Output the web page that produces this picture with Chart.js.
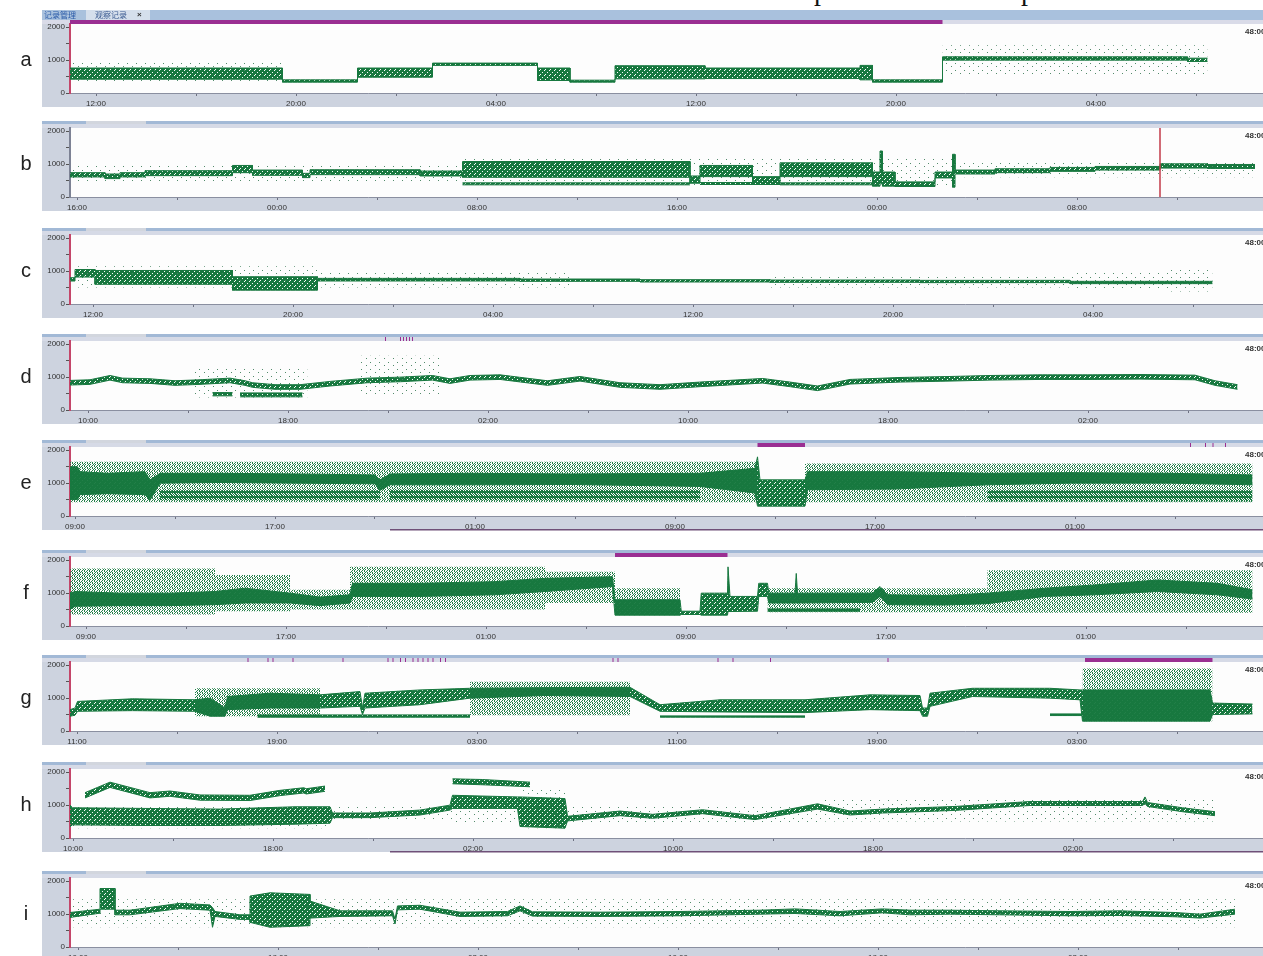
<!DOCTYPE html>
<html>
<head>
<meta charset="utf-8">
<script src="https://cdn.jsdelivr.net/npm/chart.js@4.4.1/dist/chart.umd.min.js"></script>
<style>
  html, body { margin: 0; padding: 0; background: #fff; overflow: hidden; }
  body { width: 1263px; height: 956px; position: relative; font-family: 'Liberation Sans', Arial, sans-serif; }
  canvas.panel { position: absolute; left: 0; }
  .letter { position: absolute; left: 14px; width: 24px; text-align: center; font-size: 20px; line-height: 20px; color: #222; }
  .cut { position: absolute; top: -25px; font-family: 'Liberation Serif', serif; font-size: 28px; color: #111; }
</style>
</head>
<body>
<span class="cut" style="left:814px">p</span>
<span class="cut" style="left:1021px">p</span>
<div id="wrap"></div>
<script>
// --- Data (hours from left edge of each panel, values 0-2000) ---
// a
const aT  = [0, 8.5, 11.5, 14.5, 18.7, 20.0, 21.8, 25.4, 31.6, 32.1, 34.9, 44.7, 45.5];
const aLo = [420, 330, 480, 840, 380, 330, 430, 440, 400, 330, 1000, 960, null];
const aHi = [760, 400, 760, 910, 760, 390, 830, 760, 840, 400, 1100, 1060, null];
const aST  = [0, 8.5, 34.9, 45.5];
const aSLo = [330, null, 550, null];
const aSHi = [1000, null, 1450, null];
const aTicks = ['12:00', '20:00', '04:00', '12:00', '20:00', '04:00'];
const aEvents = [[0, 34.9]];

// b
const bT  = [0, 1.4, 2.0, 3.0, 6.5, 7.3, 9.3, 9.6, 14.0, 15.7, 24.8, 25.2, 27.3, 28.4, 32.1, 32.4, 32.5, 33.0, 34.6, 35.3, 35.4, 37.0, 39.2, 41.0, 43.6, 45.5, 47.4];
const bLo = [610, 560, 610, 650, 740, 660, 590, 680, 640, 600, 420, 620, 380, 620, 330, 400, 330, 320, 580, 300, 700, 740, 780, 820, 880, 870, null];
const bHi = [740, 700, 740, 800, 960, 820, 720, 830, 790, 1080, 640, 960, 620, 1040, 760, 1400, 760, 460, 760, 1300, 820, 860, 900, 930, 1010, 990, null];
const bT2  = [15.7, 24.8, 25.2, 27.3, 28.4, 32.1];
const bLo2 = [370, null, 380, null, 370, null];
const bHi2 = [430, null, 440, null, 430, null];
const bST  = [0, 15.7, 35.4, 47.4];
const bSLo = [450, 350, 600, null];
const bSHi = [1000, 1200, 1100, null];
const bTicks = ['16:00', '00:00', '08:00', '16:00', '00:00', '08:00'];
const bCursor = 43.6;

// c
const cT  = [0, 0.2, 1.0, 6.5, 9.9, 14.0, 18.0, 22.8, 28.0, 34.0, 40.0, 45.7];
const cLo = [700, 820, 600, 420, 700, 700, 690, 670, 660, 650, 620, null];
const cHi = [800, 1050, 1020, 830, 780, 780, 760, 740, 730, 720, 690, null];
const cST  = [0.2, 9.9, 20, 28, 40, 44, 45.7];
const cSLo = [500, 500, null, 500, 420, 380, null];
const cSHi = [1150, 950, null, 900, 950, 1050, null];
const cTicks = ['12:00', '20:00', '04:00', '12:00', '20:00', '04:00'];

// d
const dT  = [0, 0.8, 1.6, 2.1, 3.2, 4.2, 5.2, 6.4, 7.0, 7.3, 8.2, 9.2, 10.4, 11.9, 13.2, 14.5, 15.2, 16.0, 17.2, 19.1, 20.4, 22.0, 23.6, 25.2, 27.7, 28.8, 29.9, 31.2, 33.2, 35.2, 36.8, 38.8, 40.8, 42.8, 45.0, 45.8, 46.7];
const dLo = [760, 780, 910, 830, 810, 750, 780, 830, 750, 690, 630, 630, 730, 830, 860, 910, 810, 910, 930, 750, 880, 690, 630, 710, 820, 710, 590, 790, 850, 880, 910, 930, 930, 940, 920, 750, 630];
const dHi = [900, 920, 1050, 970, 950, 890, 920, 970, 890, 830, 770, 770, 870, 970, 1000, 1050, 950, 1050, 1070, 890, 1020, 830, 770, 850, 960, 850, 730, 930, 990, 1020, 1050, 1070, 1070, 1080, 1060, 890, 770];
const dT2  = [5.7, 6.5, 6.8, 9.3];
const dLo2 = [430, null, 400, null];
const dHi2 = [530, null, 520, null];
const dST  = [5.0, 9.5, 11.6, 14.8];
const dSLo = [380, null, 450, null];
const dSHi = [1300, null, 1650, null];
const dTicks = ['10:00', '18:00', '02:00', '10:00', '18:00', '02:00'];
const dEvents = [[12.6, 12.64], [13.2, 13.24], [13.32, 13.36], [13.44, 13.48], [13.56, 13.6], [13.68, 13.72]];

// e
const eT  = [0, 0.3, 0.4, 1.5, 3.0, 3.2, 3.6, 6, 9, 12.2, 12.4, 12.8, 16, 20, 25.2, 27.4, 27.5, 27.6, 29.4, 29.5, 33, 36.7, 40, 44, 47.3];
const eLo = [500, 500, 650, 680, 650, 480, 1000, 1020, 1000, 980, 780, 950, 950, 960, 900, 700, 300, 300, 300, 800, 820, 950, 1000, 1000, 950];
const eHi = [1500, 1500, 1350, 1300, 1350, 1100, 1300, 1300, 1280, 1250, 1100, 1280, 1300, 1280, 1300, 1450, 1800, 1100, 1100, 1350, 1350, 1300, 1320, 1300, 1250];
const eT2  = [3.6, 12.4, 12.8, 25.2, 36.7, 47.3];
const eLo2 = [480, null, 470, null, 450, null];
const eHi2 = [780, null, 800, null, 780, null];
const eST  = [0, 27.5, 29.4, 47.3];
const eSLo = [420, null, 420, null];
const eSHi = [1650, null, 1600, null];
const eTicks = ['09:00', '17:00', '01:00', '09:00', '17:00', '01:00'];
const eEvents = [[27.5, 29.4], [44.8, 44.84], [45.4, 45.44], [45.7, 45.74], [46.2, 46.24]];

// f
const fT  = [0, 0.2, 2, 4, 5.8, 7, 8.8, 10, 11.2, 11.3, 14, 17, 19.0, 21.7, 21.8, 24.4, 24.45, 25.2, 25.25, 26.3, 26.32, 26.4, 27.5, 27.55, 27.9, 27.95, 29, 29.05, 29.1, 32.1, 32.4, 32.7, 35, 36.7, 39, 41, 43.5, 45.9, 47.3];
const fLo = [500, 600, 620, 620, 650, 700, 700, 620, 700, 900, 900, 950, 1050, 1200, 330, 330, 350, 350, 330, 330, 440, 440, 450, 900, 900, 700, 700, 700, 700, 720, 900, 650, 640, 680, 900, 950, 1050, 950, 820];
const fHi = [1000, 1050, 1000, 1000, 1050, 1150, 1000, 880, 950, 1300, 1300, 1350, 1450, 1500, 800, 800, 450, 450, 1000, 1000, 1800, 900, 900, 1300, 1300, 1000, 1000, 1600, 1000, 1000, 1200, 950, 930, 1000, 1150, 1250, 1400, 1300, 1100];
const fT2  = [27.9, 31.6];
const fLo2 = [450, null];
const fHi2 = [520, null];
const fST  = [0, 5.8, 8.8, 11.2, 19.0, 21.8, 24.4, 27.9, 36.7, 47.3];
const fSLo = [350, 450, 500, 500, 700, 330, null, 420, 400, null];
const fSHi = [1750, 1550, 1100, 1800, 1650, 1150, null, 1150, 1700, null];
const fTicks = ['09:00', '17:00', '01:00', '09:00', '17:00', '01:00'];
const fEvents = [[21.8, 26.3]];

// g
const gT  = [0, 0.2, 0.3, 2.5, 5.0, 5.6, 6.2, 6.3, 8, 10, 11.6, 11.7, 11.8, 14, 16, 19, 22.4, 23.6, 26, 29.4, 32, 34, 34.1, 34.3, 34.4, 36.1, 39.2, 40.4, 40.5, 45.6, 45.7, 47.3];
const gLo = [450, 480, 600, 620, 600, 450, 450, 650, 700, 700, 750, 500, 700, 800, 1000, 1080, 1050, 600, 580, 560, 650, 620, 450, 450, 750, 1050, 1000, 950, 300, 300, 500, 520];
const gHi = [650, 700, 900, 980, 950, 1000, 700, 1050, 1150, 1100, 1200, 700, 1150, 1250, 1300, 1320, 1330, 800, 950, 950, 1100, 1080, 700, 700, 1150, 1300, 1300, 1250, 1250, 1250, 850, 820];
const gT2  = [7.5, 16.0, 23.6, 29.4, 39.2, 40.5];
const gLo2 = [420, null, 420, null, 470, null];
const gHi2 = [490, null, 460, null, 520, null];
const gST  = [5.0, 10, 16, 22.4, 40.5, 45.7];
const gSLo = [450, null, 480, null, 300, null];
const gSHi = [1300, null, 1500, null, 1900, null];
const gTicks = ['11:00', '19:00', '03:00', '11:00', '19:00', '03:00'];
const gEvents = [[7.1, 7.14], [7.9, 7.94], [8.1, 8.14], [8.9, 8.94], [10.9, 10.94], [12.7, 12.74], [12.9, 12.94], [13.2, 13.24],
  [13.4, 13.44], [13.7, 13.74], [13.9, 13.94], [14.1, 14.14], [14.3, 14.34], [14.5, 14.54], [14.8, 14.84], [15.0, 15.04],
  [21.7, 21.74], [21.9, 21.94], [25.9, 25.94], [26.5, 26.54], [28.0, 28.04], [32.7, 32.74], [40.6, 45.7]];

// h
const hT  = [0, 0.1, 3, 6, 9, 10.4, 10.5, 12, 14, 15.2, 15.3, 17.9, 18.0, 19.8, 19.9, 22, 23.3, 25.3, 27.4, 29.9, 31.2, 32.5, 35.4, 38.4, 42.9, 43.0, 43.1, 44.5, 45.8];
const hLo = [350, 400, 380, 380, 420, 450, 620, 620, 700, 850, 900, 900, 350, 300, 520, 680, 600, 740, 560, 880, 700, 760, 840, 990, 990, 1050, 960, 800, 680];
const hHi = [1000, 920, 900, 880, 950, 950, 760, 760, 850, 1000, 1300, 1250, 1250, 1200, 660, 820, 720, 860, 680, 1040, 820, 880, 960, 1110, 1110, 1250, 1080, 920, 800];
const hT2  = [0.6, 1.6, 3.2, 4, 5.2, 7.2, 8.4, 9.35, 9.45, 10.2, 10.3, 15.3, 16.5, 18.4];
const hLo2 = [1220, 1540, 1220, 1270, 1150, 1140, 1290, 1370, 1340, 1420, null, 1650, 1620, 1560];
const hHi2 = [1380, 1700, 1380, 1430, 1310, 1300, 1450, 1530, 1500, 1580, null, 1800, 1780, 1700];
const hST  = [0, 10.4, 15.3, 18.0, 19.8, 28, 30, 45.8];
const hSLo = [300, 550, 420, 300, 450, 400, 500, null];
const hSHi = [1000, 1000, 1300, 1500, 1000, 950, 1200, null];
const hTicks = ['10:00', '18:00', '02:00', '10:00', '18:00', '02:00'];

// i
const iT  = [0, 1.2, 1.2, 1.8, 1.8, 2.4, 4.4, 5.6, 5.7, 5.8, 6.8, 7.2, 7.2, 8.0, 9.6, 9.6, 10.8, 12.9, 13.0, 13.1, 14.0, 15.6, 17.5, 18.0, 18.5, 21.2, 24.4, 27.6, 29.0, 30.8, 32.5, 33.6, 35.2, 37.2, 40.0, 42.0, 44.2, 45.2, 46.6];
const iLo = [900, 1030, 1150, 1150, 980, 980, 1170, 1120, 600, 930, 840, 840, 750, 600, 650, 880, 930, 950, 700, 1130, 1150, 930, 950, 1100, 940, 930, 950, 1000, 1020, 950, 1040, 980, 1000, 980, 950, 960, 920, 880, 1000];
const iHi = [1050, 1150, 1780, 1780, 1120, 1120, 1330, 1280, 1200, 1080, 980, 980, 1550, 1650, 1600, 1400, 1100, 1100, 850, 1250, 1270, 1060, 1080, 1250, 1070, 1060, 1080, 1120, 1160, 1080, 1160, 1120, 1120, 1100, 1080, 1100, 1050, 1000, 1150];
const iST  = [0, 46.6];
const iSLo = [600, null];
const iSHi = [1450, null];
const iTicks = ['10:00', '18:00', '02:00', '10:00', '18:00', '02:00'];

// --- Layout / style per panel ---
const GREEN = '#17783f';
const PURPLE = '#9a2f92';
const X_MAX = 47.72;

const panels = [
    { id: 'a', zero: 93,  padTop: 18, tabs: true, T: aT, lo: aLo, hi: aHi, step: true, ST: aST, SLo: aSLo, SHi: aSHi, spread: 'sparse', ticks: aTicks, first: 1.04, events: aEvents },
    { id: 'b', zero: 197, padTop: 8, axis: '#7d8294', T: bT, lo: bLo, hi: bHi, step: true, T2: bT2, lo2: bLo2, hi2: bHi2, step2: true, ST: bST, SLo: bSLo, SHi: bSHi, spread: 'sparse', ticks: bTicks, first: 0.28, cursor: bCursor },
    { id: 'c', zero: 304, padTop: 8, T: cT, lo: cLo, hi: cHi, step: true, ST: cST, SLo: cSLo, SHi: cSHi, spread: 'sparse', ticks: cTicks, first: 0.92 },
    { id: 'd', zero: 410, padTop: 8, T: dT, lo: dLo, hi: dHi, step: false, T2: dT2, lo2: dLo2, hi2: dHi2, step2: true, ST: dST, SLo: dSLo, SHi: dSHi, spread: 'sparse', ticks: dTicks, first: 0.72, events: dEvents },
    { id: 'e', zero: 516, padTop: 8, T: eT, lo: eLo, hi: eHi, step: false, T2: eT2, lo2: eLo2, hi2: eHi2, step2: true, band2: 'medium', ST: eST, SLo: eSLo, SHi: eSHi, spread: 'dense', ticks: eTicks, first: 0.2, events: eEvents, underline: 12.8 },
    { id: 'f', zero: 626, padTop: 8, T: fT, lo: fLo, hi: fHi, step: false, T2: fT2, lo2: fLo2, hi2: fHi2, step2: true, ST: fST, SLo: fSLo, SHi: fSHi, spread: 'dense', ticks: fTicks, first: 0.64, events: fEvents },
    { id: 'g', zero: 731, padTop: 8, T: gT, lo: gLo, hi: gHi, step: false, T2: gT2, lo2: gLo2, hi2: gHi2, step2: true, ST: gST, SLo: gSLo, SHi: gSHi, spread: 'dense', ticks: gTicks, first: 0.28, events: gEvents },
    { id: 'h', zero: 838, padTop: 8, T: hT, lo: hLo, hi: hHi, step: false, T2: hT2, lo2: hLo2, hi2: hHi2, step2: false, ST: hST, SLo: hSLo, SHi: hSHi, spread: 'sparse', ticks: hTicks, first: 0.12, underline: 12.8 },
    { id: 'i', zero: 947, padTop: 8, T: iT, lo: iLo, hi: iHi, step: false, ST: iST, SLo: iSLo, SHi: iSHi, spread: 'sparse', ticks: iTicks, first: 0.32 }
];

// --- Dot patterns for the scattered points ---
const makePattern = (rows, color) => {
    const c = document.createElement('canvas');
    c.width = rows[0].length; c.height = rows.length;
    const x = c.getContext('2d');
    x.fillStyle = color;
    rows.forEach((r, py) => [...r].forEach((ch, px) => { if (ch === '1') x.fillRect(px, py, 1, 1); }));
    return x.createPattern(c, 'repeat');
};
const fills = {
    tex: makePattern(['11111', '11011', '11111', '01111', '11110'], GREEN),
    medium: makePattern(['11010', '01101', '10110', '01011', '10101'], GREEN),
    dense: makePattern(['10010', '00101', '01001', '10100', '00101'], 'rgba(23,120,63,0.95)'),
    sparse: makePattern(['000000000', '010000000', '000000000', '000000000', '000000100', '000000000', '000000000'], 'rgba(40,110,70,0.8)')
};

// --- Turn a band (time, low, high) into pairs of line datasets filled between ---
const toRuns = (T, lo, hi, stepped) => {
    const out = [];
    let cur = null;
    const n = stepped ? T.length - 1 : T.length;
    for (let i = 0; i < n; i++) {
        if (lo[i] == null || hi[i] == null) { cur = null; continue; }
        if (!cur) { cur = { lo: [], hi: [] }; out.push(cur); }
        cur.lo.push({ x: T[i], y: lo[i] });
        cur.hi.push({ x: T[i], y: hi[i] });
        if (stepped) {
            cur.lo.push({ x: T[i + 1], y: lo[i] });
            cur.hi.push({ x: T[i + 1], y: hi[i] });
        }
    }
    return out;
};

const addBand = (sets, T, lo, hi, stepped, fill, border, order) => {
    if (!T) return;
    const bw = border === 'transparent' ? 0 : 1;
    toRuns(T, lo, hi, stepped).forEach(r => {
        sets.push({ data: r.lo, borderColor: border, borderWidth: bw, fill: false, order });
        sets.push({ data: r.hi, borderColor: border, borderWidth: bw, fill: '-1', backgroundColor: fill, order });
    });
};

// --- Plugin: window chrome, event bars, cursor ---
const framePlugin = {
    id: 'frame',
    beforeDraw(chart, args, o) {
        const { ctx, chartArea: ca, width } = chart;
        ctx.save();
        ctx.fillStyle = '#cdd3df';
        ctx.fillRect(42, ca.top, ca.left - 42, ca.bottom - ca.top + 14);
        ctx.fillRect(42, ca.bottom, width - 42, 14);
        ctx.fillStyle = '#fdfdfd';
        ctx.fillRect(ca.left, ca.top, ca.right - ca.left, ca.bottom - ca.top);
        if (o.tabs) {
            ctx.fillStyle = '#a9c1dd';
            ctx.fillRect(42, ca.top - 14, width - 42, 10);
            ctx.fillStyle = '#d5dfec';
            ctx.fillRect(86, ca.top - 14, 64, 10);
            ctx.fillStyle = '#d9dbe8';
            ctx.fillRect(42, ca.top - 4, width - 42, 4);
            ctx.textBaseline = 'middle';
            ctx.font = '8px "Noto Sans CJK SC"';
            ctx.fillStyle = '#2a5aa8';
            ctx.fillText('记录管理', 44, ca.top - 9);
            ctx.fillStyle = '#3a5a90';
            ctx.fillText('观察记录', 95, ca.top - 9);
            ctx.font = 'bold 8px "Liberation Sans"';
            ctx.fillStyle = '#333';
            ctx.fillText('×', 137, ca.top - 9);
        } else {
            ctx.fillStyle = '#d6dae6';
            ctx.fillRect(42, ca.top - 7, width - 42, 7);
            ctx.fillStyle = '#a2b9d6';
            ctx.fillRect(42, ca.top - 7, width - 42, 3);
            ctx.fillStyle = '#d2d6de';
            ctx.fillRect(86, ca.top - 7, 60, 3);
        }
        ctx.restore();
    },
    afterDraw(chart, args, o) {
        const { ctx, chartArea: ca, width } = chart;
        const xs = chart.scales.x;
        ctx.save();
        (o.events || []).forEach(([s, e]) => {
            const x1 = xs.getPixelForValue(s);
            const x2 = xs.getPixelForValue(e);
            ctx.fillStyle = PURPLE;
            ctx.fillRect(x1, ca.top - 4, Math.max(1, x2 - x1), 4);
        });
        if (o.cursor != null) {
            const x = xs.getPixelForValue(o.cursor);
            ctx.strokeStyle = '#c23a48';
            ctx.lineWidth = 1.5;
            ctx.beginPath();
            ctx.moveTo(x, ca.top);
            ctx.lineTo(x, ca.bottom);
            ctx.stroke();
        }
        if (o.underline != null) {
            ctx.fillStyle = '#6f5078';
            ctx.fillRect(xs.getPixelForValue(o.underline), ca.bottom + 13, width, 1.5);
        }
        ctx.font = 'bold 8px "Liberation Sans"';
        ctx.fillStyle = '#333';
        ctx.textBaseline = 'top';
        ctx.fillText('48:00', 1245, ca.top + 4);
        ctx.restore();
    }
};

// --- Build panels ---
const wrap = document.getElementById('wrap');
panels.forEach(p => {
    const height = p.padTop + 69 + 14 + 9;
    const canvas = document.createElement('canvas');
    canvas.className = 'panel';
    canvas.width = 1263;
    canvas.height = height;
    canvas.style.top = (p.zero - 69 - p.padTop) + 'px';
    wrap.appendChild(canvas);

    const letter = document.createElement('div');
    letter.className = 'letter';
    letter.textContent = p.id;
    letter.style.top = (p.zero - 44) + 'px';
    wrap.appendChild(letter);

    const datasets = [];
    addBand(datasets, p.T, p.lo, p.hi, p.step, fills.tex, GREEN, 1);
    addBand(datasets, p.T2, p.lo2, p.hi2, p.step2, fills[p.band2 || 'tex'], p.band2 ? 'transparent' : GREEN, 2);
    addBand(datasets, p.ST, p.SLo, p.SHi, true, fills[p.spread], 'transparent', 3);

    const xTicks = [];
    for (let v = p.first % 4; v <= X_MAX; v += 4) xTicks.push(+v.toFixed(2));

    new Chart(canvas, {
        type: 'line',
        data: { datasets },
        options: {
            responsive: false,
            animation: false,
            events: [],
            layout: { padding: { left: 42, right: 0, top: p.padTop, bottom: 9 } },
            elements: { point: { radius: 0 }, line: { tension: 0 } },
            plugins: {
                legend: { display: false },
                tooltip: { enabled: false },
                frame: { tabs: p.tabs, events: p.events, cursor: p.cursor, underline: p.underline }
            },
            scales: {
                x: {
                    type: 'linear', min: 0, max: X_MAX,
                    afterBuildTicks: s => { s.ticks = xTicks.map(v => ({ value: v })); },
                    afterFit: s => { s.height = 14; },
                    ticks: {
                        autoSkip: false, maxRotation: 0, padding: 3,
                        font: { size: 8, family: 'Liberation Sans' }, color: '#333',
                        callback: v => {
                            const k = Math.round((v - p.first) / 8);
                            return (k >= 0 && Math.abs(v - p.first - 8 * k) < 0.05) ? p.ticks[k] : '';
                        }
                    },
                    grid: { drawOnChartArea: false, tickLength: 3, color: '#6d7080' },
                    border: { color: '#8a8fa0' }
                },
                y: {
                    min: 0, max: 2100,
                    afterBuildTicks: s => { s.ticks = [0, 500, 1000, 1500, 2000].map(v => ({ value: v })); },
                    afterFit: s => { s.width = 28; },
                    ticks: {
                        padding: 1, font: { size: 8, family: 'Liberation Sans' }, color: '#333',
                        callback: v => (v % 1000 === 0 ? String(v) : '')
                    },
                    grid: { drawOnChartArea: false, tickLength: 4, color: '#555' },
                    border: { color: p.axis || '#c4466a', width: 2 }
                }
            }
        },
        plugins: [framePlugin]
    });
});
</script>
</body>
</html>
